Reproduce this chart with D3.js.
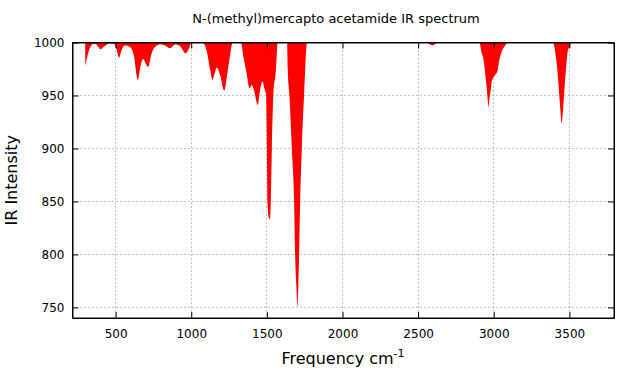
<!DOCTYPE html>
<html>
<head>
<meta charset="utf-8">
<script src="https://cdn.jsdelivr.net/npm/d3@7"></script>
<style>
  body { margin: 0; background: #fff; }
  text { font-family: "DejaVu Sans", sans-serif; fill: #000; }
  .axis path { stroke: #000; }
  .axis line { stroke: #000; }
</style>
</head>
<body>
<div id="body"></div>
<script>
// wavenumber (cm-1) and intensity
var freq = [299, 315, 334, 350, 367, 385, 400, 418, 433, 462, 489, 505, 522, 540, 561, 598, 620, 647, 665, 682,
  700, 715, 735, 753, 797, 830, 859, 896, 930, 962, 988, 1001,
  1059, 1081, 1103, 1125, 1140, 1155, 1169, 1191, 1218, 1237, 1257, 1272, 1283,
  1328, 1345, 1368, 1385, 1401, 1414, 1440, 1455, 1471, 1485, 1495, 1500, 1504, 1512, 1521, 1526, 1533, 1543, 1559, 1572,
  1634, 1638, 1649, 1665, 1680, 1687, 1695, 1702, 1708, 1713, 1720, 1731, 1746, 1755, 1766,
  2550, 2575, 2594, 2612, 2630,
  2905, 2920, 2931, 2947, 2960, 2964, 2970, 2976, 2987, 3009, 3024, 3035, 3053, 3075, 3097,
  3390, 3412, 3427, 3438, 3449, 3460, 3471, 3482, 3489, 3500, 3509];
var intensity = [978, 988, 996, 998.5, 998.7, 996, 993.7, 995.5, 997.2, 999.3, 998.8, 994, 985.8, 993, 997.2, 995.6, 988, 964.7, 978, 984.5,
  980, 976.7, 988, 994.6, 998.4, 997, 994.6, 998.4, 996, 989.9, 995.3, 1000,
  1000, 999.3, 991.5, 974.2, 964.7, 971, 976.4, 969.4, 954.7, 969.4, 988.3, 999.3, 1000,
  1000, 986.8, 969.4, 956.9, 960, 955.3, 941.1, 955, 963.2, 956, 950.6, 900.3, 849.6, 835, 833, 849.6, 900.3, 950.6, 972.6, 1000,
  1000, 975, 950.6, 900.3, 849.6, 799.3, 770, 750.6, 770, 799.3, 849.6, 900.3, 950.6, 980, 1000,
  1000, 998.5, 997.2, 998.5, 1000,
  1000, 990, 985.2, 966.3, 945.8, 939, 945, 950.6, 963.2, 969.4, 972.6, 982.1, 991.5, 997.2, 1000,
  1000, 985.2, 963.2, 941.1, 923.9, 941.1, 963.2, 982.1, 991.5, 996, 1000];

var xTicks = [500, 1000, 1500, 2000, 2500, 3000, 3500];
var yTicks = [750, 800, 850, 900, 950, 1000];

var title = "N-(methyl)mercapto acetamide IR spectrum";

var wwidth = 627, hheight = 376;
var padding = { left: 72.5, right: 13, top: 42.5, bottom: 58 };
var width = wwidth - padding.left - padding.right;
var height = hheight - padding.top - padding.bottom;

var svg = d3.select("#body").append("svg")
  .attr("width", wwidth)
  .attr("height", hheight);

var xScale = d3.scaleLinear().domain([215, 3795]).range([0, width]);
var yScale = d3.scaleLinear().domain([740, 1000]).range([height, 0]);

var g = svg.append("g")
  .attr("transform", "translate(" + padding.left + "," + padding.top + ")");

// grid
g.append("g").selectAll("line").data(xTicks).enter().append("line")
  .attr("x1", function (d) { return Math.round(xScale(d)); })
  .attr("x2", function (d) { return Math.round(xScale(d)); })
  .attr("y1", 0).attr("y2", height)
  .attr("stroke", "#888").attr("stroke-dasharray", "1,3");
g.append("g").selectAll("line").data(yTicks).enter().append("line")
  .attr("y1", function (d) { return Math.round(yScale(d)); })
  .attr("y2", function (d) { return Math.round(yScale(d)); })
  .attr("x1", 0).attr("x2", width)
  .attr("stroke", "#888").attr("stroke-dasharray", "1,3");

// spectrum, filled down from the 1000 line
var points = freq.map(function (f, i) { return [f, intensity[i]]; });
var area = d3.area()
  .curve(d3.curveMonotoneX)
  .x(function (d) { return xScale(d[0]); })
  .y0(yScale(1000))
  .y1(function (d) { return yScale(d[1]); });
g.append("path").datum(points)
  .attr("d", area)
  .attr("fill", "#ff0000");

// axes, ticks pointing inward on all sides
var fmt = d3.format("d");
g.append("g").attr("class", "axis")
  .attr("transform", "translate(0," + height + ")")
  .call(d3.axisBottom(xScale).tickValues(xTicks).tickFormat(fmt).tickSizeInner(-6).tickSizeOuter(0).tickPadding(11))
  .call(function (a) { a.selectAll("text").attr("font-size", 12).attr("font-family", null); });
g.append("g").attr("class", "axis")
  .call(d3.axisTop(xScale).tickValues(xTicks).tickFormat("").tickSizeInner(-6).tickSizeOuter(0));
g.append("g").attr("class", "axis")
  .call(d3.axisLeft(yScale).tickValues(yTicks).tickFormat(fmt).tickSizeInner(-6).tickSizeOuter(0).tickPadding(8))
  .call(function (a) { a.selectAll("text").attr("font-size", 12).attr("font-family", null); });
g.append("g").attr("class", "axis")
  .attr("transform", "translate(" + width + ",0)")
  .call(d3.axisRight(yScale).tickValues(yTicks).tickFormat("").tickSizeInner(-6).tickSizeOuter(0));

g.append("rect")
  .attr("width", width).attr("height", height)
  .attr("fill", "none").attr("stroke", "#000");

// labels
svg.append("text")
  .attr("x", 336).attr("y", 23)
  .attr("text-anchor", "middle")
  .attr("font-size", 13)
  .text(title);

var xl = svg.append("text")
  .attr("x", 343).attr("y", 364)
  .attr("text-anchor", "middle")
  .attr("font-size", 16);
xl.append("tspan").text("Frequency cm");
xl.append("tspan").attr("font-size", 11).attr("dy", -7).text("-1");

svg.append("text")
  .attr("transform", "translate(17," + (padding.top + height / 2) + ") rotate(-90)")
  .attr("text-anchor", "middle")
  .attr("font-size", 16)
  .text("IR Intensity");
</script>
</body>
</html>
